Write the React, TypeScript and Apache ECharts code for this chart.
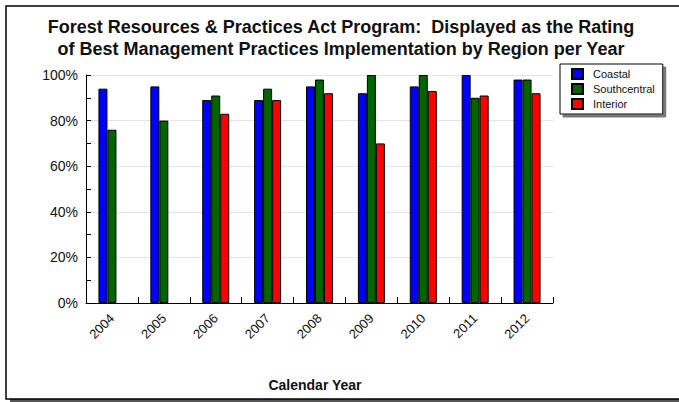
import React, { useEffect, useRef } from "react";
import * as echarts from "echarts";

const years = ["2004", "2005", "2006", "2007", "2008", "2009", "2010", "2011", "2012"];
const coastal = [94, 95, 89, 89, 95, 92, 95, 100, 98];
const southcentral = [76, 80, 91, 94, 98, 100, 100, 90, 98];
const interior = [null, null, 83, 89, 92, 70, 93, 91, 92];
const seriesNames = ["Coastal", "Southcentral", "Interior"];
const seriesColors = ["#0000ff", "#006400", "#ff0000"];

const FONT = "'Liberation Sans', Arial, sans-serif";

export default function App() {
  const ref = useRef<HTMLDivElement>(null);
  useEffect(() => {
    if (!ref.current) return;
    const chart = echarts.init(ref.current, null, { renderer: "svg" });
    const data = [coastal, southcentral, interior];
    chart.setOption({
      animation: false,
      backgroundColor: "#ffffff",
      textStyle: { fontFamily: FONT },
      graphic: [
        { type: "rect", z: -10, shape: { x: 10, y: 9, width: 700, height: 393 }, style: { fill: "#555555" }, silent: true },
        { type: "rect", z: -9, shape: { x: 6, y: 6, width: 700, height: 393 }, style: { fill: "#ffffff", stroke: "#000000", lineWidth: 1.5 }, silent: true },
        {
          type: "text",
          x: 315,
          y: 385,
          style: { text: "Calendar Year", font: `bold 14px ${FONT}`, fill: "#111", align: "center", verticalAlign: "middle" },
        },
      ],
      title: {
        text: "Forest Resources & Practices Act Program:  Displayed as the Rating\nof Best Management Practices Implementation by Region per Year",
        left: 336,
        textAlign: "center",
        top: 11,
        textStyle: { fontFamily: FONT, fontSize: 18, fontWeight: "bold", color: "#111", lineHeight: 22 },
      },
      legend: {
        orient: "vertical",
        left: 560,
        top: 64,
        padding: [4, 8, 4, 11],
        itemWidth: 11,
        itemHeight: 10,
        itemGap: 3,
        icon: "rect",
        backgroundColor: "#ffffff",
        borderColor: "#000000",
        borderWidth: 1,
        borderRadius: 0,
        shadowColor: "#777777",
        shadowOffsetX: 3,
        shadowOffsetY: 3,
        shadowBlur: 0,
        textStyle: { fontFamily: FONT, fontSize: 11, color: "#111", padding: [0, 0, 0, 5] },
        data: seriesNames,
      },
      grid: { left: 86, right: 126, top: 75, bottom: 99, containLabel: false },
      xAxis: {
        type: "category",
        data: years,
        axisLine: { lineStyle: { color: "#000", width: 1 } },
        axisTick: { show: true, inside: true, length: 6, lineStyle: { color: "#000" } },
        axisLabel: { rotate: 45, fontSize: 13, color: "#111", margin: 13, fontFamily: FONT },
        splitLine: { show: false },
      },
      yAxis: {
        type: "value",
        min: 0,
        max: 100,
        interval: 20,
        axisLine: { show: true, lineStyle: { color: "#000", width: 1 } },
        axisTick: { show: true, inside: true, length: 5, lineStyle: { color: "#000" } },
        minorTick: { show: true, splitNumber: 2, length: 5, lineStyle: { color: "#000" } },
        axisLabel: { formatter: "{value}%", fontSize: 14, color: "#111", margin: 8, fontFamily: FONT },
        splitLine: { show: true, lineStyle: { color: "#e3e3e3", width: 1 } },
      },
      series: seriesNames.map((name, i) => ({
        name,
        type: "bar",
        data: data[i],
        barWidth: 9,
        barGap: "0%",
        itemStyle: { color: seriesColors[i], borderColor: "#000", borderWidth: 1 },
      })),
    });
    return () => chart.dispose();
  }, []);
  return <div ref={ref} style={{ position: "fixed", left: 0, top: 0, width: 679, height: 402 }} />;
}
